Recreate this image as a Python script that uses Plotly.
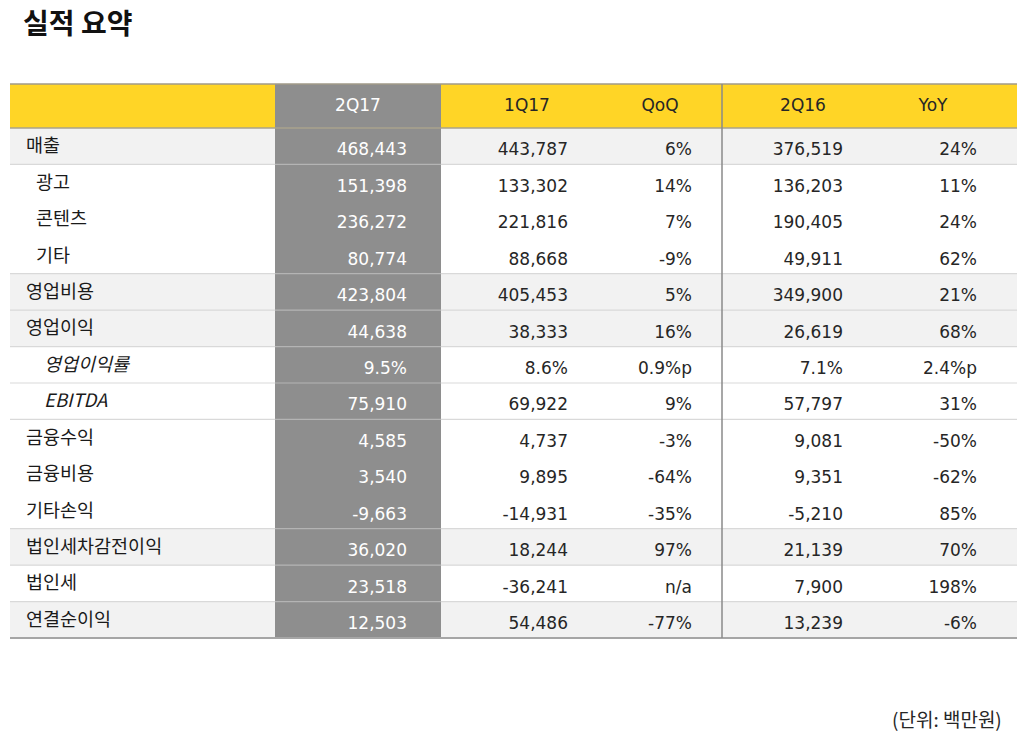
import plotly.graph_objects as go

# ---------------- data ----------------
title = "실적 요약"
unit_note = "(단위: 백만원)"
col_headers = ["2Q17", "1Q17", "QoQ", "2Q16", "YoY"]
row_labels = ["매출", "광고", "콘텐츠", "기타", "영업비용", "영업이익", "영업이익률",
              "EBITDA", "금융수익", "금융비용", "기타손익", "법인세차감전이익", "법인세", "연결순이익"]
row_level = [0, 1, 1, 1, 0, 0, 2, 2, 0, 0, 0, 0, 0, 0]
q2_17 = ["468,443", "151,398", "236,272", "80,774", "423,804", "44,638", "9.5%",
         "75,910", "4,585", "3,540", "-9,663", "36,020", "23,518", "12,503"]
q1_17 = ["443,787", "133,302", "221,816", "88,668", "405,453", "38,333", "8.6%",
         "69,922", "4,737", "9,895", "-14,931", "18,244", "-36,241", "54,486"]
qoq = ["6%", "14%", "7%", "-9%", "5%", "16%", "0.9%p", "9%", "-3%", "-64%",
       "-35%", "97%", "n/a", "-77%"]
q2_16 = ["376,519", "136,203", "190,405", "49,911", "349,900", "26,619", "7.1%",
         "57,797", "9,081", "9,351", "-5,210", "21,139", "7,900", "13,239"]
yoy = ["24%", "11%", "24%", "62%", "21%", "68%", "2.4%p", "31%", "-50%", "-62%",
       "85%", "70%", "198%", "-6%"]
shaded_rows = [0, 4, 5, 11, 13]
line_after_rows = [0, 3, 4, 5, 6, 7, 10, 11, 12]

# ---------------- layout geometry ----------------
W, H = 1020, 736
L, R = 10, 1017
HEAD_TOP, HEAD_BOT = 84, 128
TABLE_BOT = 638
n = len(row_labels)
rh = (TABLE_BOT - HEAD_BOT) / n
GRAY_L, GRAY_R = 275, 441
VLINE_X = 722
value_right = [407, 568, 692, 843, 977]
header_center = [358, 527, 660, 803, 933]
indent_x = {0: 26, 1: 36, 2: 44}

YELLOW = "#FFD526"
GRAY = "#8E8E8E"
SHADE = "#F2F2F2"
SEP = "#D9D9D9"
TXT = "#262626"
NUMFONT = "DejaVu Sans"
KRFONT = "Noto Sans CJK KR"

def row_top(i):
    return HEAD_BOT + i * rh

def row_mid(i):
    return HEAD_BOT + (i + 0.5) * rh

shapes = []
for i in shaded_rows:
    shapes.append(dict(type="rect", x0=L, x1=R, y0=row_top(i), y1=row_top(i + 1),
                       fillcolor=SHADE, line_width=0, layer="below"))
shapes.append(dict(type="rect", x0=L, x1=R, y0=HEAD_TOP, y1=HEAD_BOT,
                   fillcolor=YELLOW, line_width=0, layer="below"))
shapes.append(dict(type="rect", x0=GRAY_L, x1=GRAY_R, y0=HEAD_TOP, y1=TABLE_BOT,
                   fillcolor=GRAY, line_width=0, layer="below"))
for i in line_after_rows:
    y = row_top(i + 1)
    shapes.append(dict(type="line", x0=L, x1=GRAY_L, y0=y, y1=y,
                       line=dict(color=SEP, width=1.2), layer="below"))
    shapes.append(dict(type="line", x0=GRAY_R, x1=R, y0=y, y1=y,
                       line=dict(color=SEP, width=1.2), layer="below"))
    shapes.append(dict(type="line", x0=GRAY_L, x1=GRAY_R, y0=y, y1=y,
                       line=dict(color="#B4B4B4", width=1.2), layer="below"))
shapes.append(dict(type="line", x0=L, x1=R, y0=HEAD_TOP, y1=HEAD_TOP,
                   line=dict(color="#A09A88", width=1.5), layer="below"))
shapes.append(dict(type="line", x0=L, x1=R, y0=HEAD_BOT, y1=HEAD_BOT,
                   line=dict(color="#A8A28C", width=1.5), layer="below"))
shapes.append(dict(type="line", x0=L, x1=R, y0=TABLE_BOT, y1=TABLE_BOT,
                   line=dict(color="#A6A6A6", width=2), layer="below"))
shapes.append(dict(type="line", x0=VLINE_X, x1=VLINE_X, y0=HEAD_TOP, y1=TABLE_BOT,
                   line=dict(color="#8A8A8A", width=1.5), layer="below"))

fig = go.Figure()

fig.add_trace(go.Scatter(
    x=header_center, y=[(HEAD_TOP + HEAD_BOT) / 2 + 1] * len(col_headers),
    text=col_headers, mode="text", textposition="middle center",
    textfont=dict(family=NUMFONT, size=17,
                  color=["#FFFFFF"] + [TXT] * (len(col_headers) - 1)),
    hoverinfo="skip", showlegend=False))

for lvl in (0, 1, 2):
    idx = [i for i in range(n) if row_level[i] == lvl]
    txt = [("<i>%s</i>" % row_labels[i]) if lvl == 2 else row_labels[i] for i in idx]
    fig.add_trace(go.Scatter(
        x=[indent_x[lvl]] * len(idx), y=[row_mid(i) + 1.5 for i in idx],
        text=txt, mode="text", textposition="middle right",
        textfont=dict(family=KRFONT, size=18.5, color="#1A1A1A"),
        hoverinfo="skip", showlegend=False))

columns = [q2_17, q1_17, qoq, q2_16, yoy]
for c, vals in enumerate(columns):
    fig.add_trace(go.Scatter(
        x=[value_right[c]] * n, y=[row_mid(i) + 5 for i in range(n)],
        text=vals, mode="text", textposition="middle left",
        textfont=dict(family=NUMFONT, size=17,
                      color="#FFFFFF" if c == 0 else TXT),
        hoverinfo="skip", showlegend=False))

annotations = [
    dict(x=21, y=22, xref="x", yref="y", text="<b>%s</b>" % title, showarrow=False,
         xanchor="left", yanchor="middle",
         font=dict(family=KRFONT, size=28, color="#111111")),
    dict(x=1004, y=718, xref="x", yref="y", text=unit_note, showarrow=False,
         xanchor="right", yanchor="middle",
         font=dict(family=KRFONT, size=19, color="#262626")),
]

fig.update_layout(
    width=W, height=H, autosize=False,
    margin=dict(l=0, r=0, t=0, b=0),
    paper_bgcolor="white", plot_bgcolor="white",
    xaxis=dict(range=[0, W], visible=False, fixedrange=True),
    yaxis=dict(range=[H, 0], visible=False, fixedrange=True),
    shapes=shapes, annotations=annotations,
)

fig.write_html("out.html", config={"displayModeBar": False},
               post_script="document.body.style.margin='0';document.body.style.overflow='hidden';")
